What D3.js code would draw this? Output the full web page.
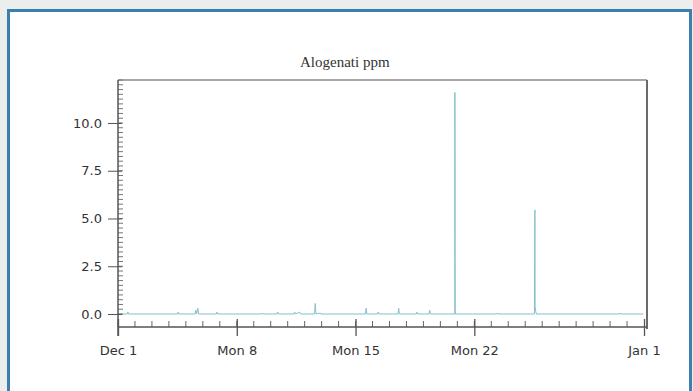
<!DOCTYPE html>
<html><head><meta charset="utf-8">
<script src="https://cdn.jsdelivr.net/npm/d3@7"></script>
<style>
html,body{margin:0;padding:0;background:#eceeed;}
svg{display:block;}
</style></head>
<body>
<svg id="chart" width="693" height="391"></svg>
<script>
// ---- data ----
const chartTitle = "Alogenati ppm";
const sampleTimes = [
  "2014-12-01T00:00Z","2014-12-01T13:00Z","2014-12-01T14:00Z","2014-12-01T15:00Z",
  "2014-12-04T12:00Z","2014-12-04T13:00Z","2014-12-04T14:00Z",
  "2014-12-05T13:00Z","2014-12-05T14:00Z","2014-12-05T15:00Z","2014-12-05T17:00Z","2014-12-05T18:00Z",
  "2014-12-06T19:00Z","2014-12-06T20:00Z","2014-12-06T21:00Z",
  "2014-12-09T11:00Z","2014-12-09T12:00Z","2014-12-09T13:00Z",
  "2014-12-10T09:00Z","2014-12-10T10:00Z","2014-12-10T11:00Z",
  "2014-12-11T09:00Z","2014-12-11T10:00Z","2014-12-11T11:00Z","2014-12-11T17:00Z","2014-12-11T18:00Z",
  "2014-12-12T14:00Z","2014-12-12T15:00Z","2014-12-12T16:00Z","2014-12-12T22:00Z","2014-12-12T23:00Z",
  "2014-12-15T14:00Z","2014-12-15T15:00Z","2014-12-15T16:00Z",
  "2014-12-16T07:00Z","2014-12-16T08:00Z","2014-12-16T09:00Z",
  "2014-12-17T12:00Z","2014-12-17T13:00Z","2014-12-17T14:00Z",
  "2014-12-18T14:00Z","2014-12-18T15:00Z","2014-12-18T16:00Z",
  "2014-12-19T08:00Z","2014-12-19T09:00Z","2014-12-19T10:00Z",
  "2014-12-20T20:20Z","2014-12-20T20:30Z","2014-12-20T20:40Z","2014-12-20T20:50Z","2014-12-20T21:00Z","2014-12-20T21:10Z",
  "2014-12-23T07:00Z","2014-12-23T08:00Z","2014-12-23T09:00Z",
  "2014-12-25T13:00Z","2014-12-25T13:40Z","2014-12-25T14:00Z","2014-12-25T15:00Z","2014-12-25T16:00Z",
  "2014-12-30T13:00Z","2014-12-30T14:00Z","2014-12-30T15:00Z",
  "2014-12-31T23:00Z"
];
const sampleValues = [
  0,0,0.1,0,
  0,0.1,0,
  0,0.2,0,0.3,0,
  0,0.1,0,
  0,0.05,0,
  0,0.1,0,
  0,0.1,0,0.1,0,
  0,0.55,0,0.05,0,
  0,0.3,0,
  0,0.1,0,
  0,0.3,0,
  0,0.1,0,
  0,0.2,0,
  0,11.6,9.0,2.9,0.3,0,
  0,0.05,0,
  0,5.45,0.4,0.1,0,
  0,0.05,0,
  0
];
const yTickValues = [0, 2.5, 5.0, 7.5, 10.0];
const xTickDates = ["2014-12-01","2014-12-08","2014-12-15","2014-12-22","2015-01-01"];
const xTickLabels = ["Dec 1","Mon 8","Mon 15","Mon 22","Jan 1"];
const xDomain = ["2014-12-01","2015-01-01"];
const yDomain = [-0.68, 12.25];

// ---- layout ----
const svg = d3.select("#chart");
const L = 118, R = 647, T = 80, B = 327;
const labelFont = "DejaVu Sans, Verdana, sans-serif";

// panel
svg.append("rect").attr("x", 8.5).attr("y", 10.5).attr("width", 682).attr("height", 400)
  .attr("fill", "#ffffff").attr("stroke", "#3a7fae").attr("stroke-width", 3);

const x = d3.scaleUtc().domain(xDomain.map(d => new Date(d + "T00:00Z"))).range([L, R - 3]);
const y = d3.scaleLinear().domain(yDomain).range([B, T]);

// title
svg.append("text").attr("x", 300).attr("y", 67).attr("text-anchor", "start")
  .attr("font-family", "Liberation Serif, Times New Roman, serif").attr("font-size", 15)
  .attr("fill", "#333").text(chartTitle);

// frame top & right
svg.append("line").attr("x1", L).attr("x2", R).attr("y1", T).attr("y2", T)
  .attr("stroke", "#8a8a8a").attr("stroke-width", 1.5);
svg.append("line").attr("x1", R).attr("x2", R).attr("y1", T).attr("y2", B + 2)
  .attr("stroke", "#6a6a6a").attr("stroke-width", 2);

// data line
const data = sampleTimes.map((t, i) => ({t: new Date(t), v: sampleValues[i]}));
svg.append("path").datum(data)
  .attr("fill", "none").attr("stroke", "#86bfcc").attr("stroke-width", 1)
  .attr("d", d3.line().x(d => x(d.t)).y(d => y(d.v)));

// y axis
const yAxisG = svg.append("g").attr("transform", `translate(${L},0)`);
const yMinor = d3.range(0, 12.26, 0.25);
yAxisG.selectAll(".ym").data(yMinor).join("line")
  .attr("x1", 0).attr("x2", 5).attr("y1", d => y(d)).attr("y2", d => y(d))
  .attr("stroke", "#777").attr("stroke-width", 1);
const yAxis = d3.axisLeft(y).tickValues(yTickValues).tickFormat(d3.format(".1f")).tickSize(10).tickPadding(6);
yAxisG.call(yAxis);
yAxisG.select(".domain").remove();
yAxisG.selectAll(".tick line").attr("stroke", "#555").attr("x2", 4).attr("x1", -10);
yAxisG.selectAll(".tick text").attr("font-family", labelFont)
  .attr("font-size", 13).attr("fill", "#333");
yAxisG.append("line").attr("x1", 0).attr("x2", 0).attr("y1", T).attr("y2", B + 9)
  .attr("stroke", "#555").attr("stroke-width", 1.5);

// x axis
const xAxisG = svg.append("g").attr("transform", `translate(0,${B})`);
const days = d3.utcDay.range(new Date(xDomain[0] + "T00:00Z"), new Date(xDomain[1] + "T00:00Z"));
xAxisG.selectAll(".xm").data(days).join("line")
  .attr("x1", d => x(d)).attr("x2", d => x(d)).attr("y1", -6).attr("y2", 0)
  .attr("stroke", "#666").attr("stroke-width", 1);
const xAxis = d3.axisBottom(x).tickValues(xTickDates.map(d => new Date(d + "T00:00Z")))
  .tickFormat((d, i) => xTickLabels[i]).tickSize(9).tickPadding(10);
xAxisG.call(xAxis);
xAxisG.select(".domain").remove();
xAxisG.selectAll(".tick line").attr("stroke", "#555").attr("y1", -8).attr("stroke-width", 1.3);
xAxisG.selectAll(".tick text").attr("font-family", labelFont)
  .attr("font-size", 13).attr("fill", "#333");
xAxisG.append("line").attr("x1", L).attr("x2", R).attr("y1", 0).attr("y2", 0)
  .attr("stroke", "#555").attr("stroke-width", 1.5);
</script>
</body></html>
